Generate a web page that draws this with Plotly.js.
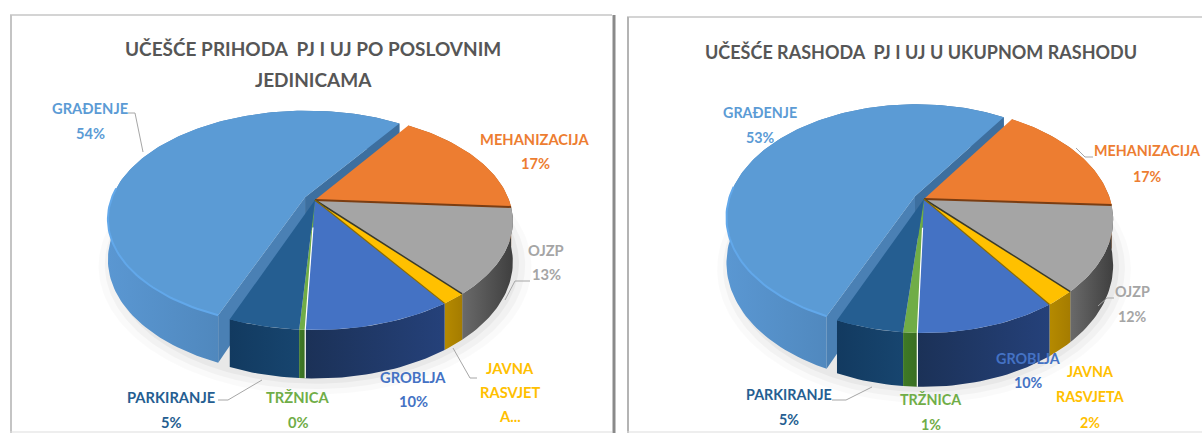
<!DOCTYPE html>
<html><head><meta charset="utf-8">
<script src="https://cdn.plot.ly/plotly-3.0.1.min.js"></script>
<style>html,body{margin:0;padding:0;background:#fff}#c{width:1202px;height:433px}</style>
</head><body><div id="c"></div>
<script>
// Data (clockwise from the orange slice)
const categories = ["MEHANIZACIJA","OJZP","JAVNA RASVJETA","GROBLJA","TRŽNICA","PARKIRANJE","GRAĐENJE"];
const incomeShare  = [16.6,12.8,1.7,10.1,0.4,4.8,53.6];
const expenseShare = [16.7,12.2,2.2,10.2,1.0,4.9,52.8];
const titleIncome  = ["UČEŠĆE PRIHODA  PJ I UJ PO POSLOVNIM","JEDINICAMA"];
const titleExpense = ["UČEŠĆE RASHODA  PJ I UJ U UKUPNOM RASHODU"];

// Styles
const topColors  = ["#ed7d31","#a5a5a5","#ffc000","#4472c4","#70ad47","#255e91","#5b9bd5"];
const wallLeft   = ["#a85a20","#6a6a6a","#b58a00","#1b3157","#3f7a26","#123a60","#5a97d2"];
const wallRight  = ["#a85a20","#3f3f3f","#a57c00","#25417a","#3a6e22","#17456f","#3f6f9c"];
const labelColors= ["#ed7d31","#a5a5a5","#ffc000","#4472c4","#70ad47","#255e91","#5b9bd5"];

const geomL = {xa:"x", ya:"y", cx:315, cy:200, a:194, b:104.5, k:0.196, h:39, off:0.058, start:-56, labelSize:14.7, titleSize:19};
const geomR = {xa:"x2",ya:"y2",cx:924, cy:199, a:186, b:109.6, k:0.182, h:44, off:0.055, start:-57, labelSize:14.3, titleSize:18};

// label anchor layout: [x, y of each line], per category
const posL = [[535,[139,163]],[546,[250,274]],[510,[368,392,416]],[413,[377,401]],[298,[397,422]],[171,[397,422]],[90,[108,133]]];
const posR = [[1147,[150,176]],[1132,[291,316]],[1090,[371,396,422]],[1028,[358,382]],[931,[399,424]],[789,[394,419]],[760,[112,137]]];
const wrapL = {2:["JAVNA","RASVJET","A..."]};
const wrapR = {2:["JAVNA","RASVJETA"]};
const leadersL = [[[128,113],[135,113],[143,152]],[[530,281],[515,281],[505,300]],[[453,348],[470,378],[477,378]],[[218,400],[228,400],[262,380]]];
const leadersR = [[[1093,157],[1085,157],[1076,148]],[[1114,298],[1107,298],[1098,306]],[[832,400],[846,400],[872,387]]];

const traces = [], annos = [];
function proj(g,X,Y,low,ox,oy){
  const px=X+(ox||0), py=Y+(oy||0), w=1-g.k*py;
  return [g.cx+g.a*px/w, g.cy+g.b*py/w+(low?g.h/w:0)];
}
function poly(g,pts,color,extra){
  traces.push(Object.assign({type:"scatter",mode:"lines",xaxis:g.xa,yaxis:g.ya,
    x:pts.map(p=>p[0]),y:pts.map(p=>p[1]),fill:"toself",fillcolor:color,
    line:{width:0,color:color},hoverinfo:"skip",showlegend:false},extra||{}));
}
function line(g,pts,color,width){
  traces.push({type:"scatter",mode:"lines",xaxis:g.xa,yaxis:g.ya,x:pts.map(p=>p[0]),y:pts.map(p=>p[1]),
    line:{width:width,color:color},hoverinfo:"skip",showlegend:false});
}
function arc(t0,t1){const n=Math.max(2,Math.ceil(Math.abs(t1-t0)/1.5));const r=[];for(let i=0;i<=n;i++)r.push((t0+(t1-t0)*i/n)*Math.PI/180);return r;}

function pie(g,values,pos,wrap,leaders,title,titleY,titleX){
  const tot=values.reduce((s,v)=>s+v,0);
  const sl=[];let t=g.start;
  values.forEach((v,i)=>{const t1=t+v/tot*360;sl.push({i,t0:t,t1,mid:(t+t1)/2});t=t1;});
  const ex=sl[sl.length-1];
  const ox=g.off*Math.cos(ex.mid*Math.PI/180), oy=g.off*Math.sin(ex.mid*Math.PI/180);

  // soft ground shadow
  [[1.09,.02],[1.06,.03],[1.03,.04]].forEach(([s,o])=>{
    const pts=arc(0,360).map(a=>{const p=proj(g,s*Math.cos(a),s*Math.sin(a),true);return p;});
    poly(g,pts,"rgba(0,0,0,"+o+")");
  });

  // exploded slice: wall and cut faces
  const wall=(s,dx,dy)=>{
    const A=arc(s.t0,s.t1);
    const up=A.map(a=>proj(g,Math.cos(a),Math.sin(a),false,dx,dy));
    const lo=A.map(a=>proj(g,Math.cos(a),Math.sin(a),true,dx,dy)).reverse();
    poly(g,up.concat(lo),topColors[s.i],{fillgradient:{type:"horizontal",
      colorscale:[[0,wallLeft[s.i]],[1,wallRight[s.i]]]}});
  };
  const face=(tt,dx,dy,col)=>{
    const a=tt*Math.PI/180,c=Math.cos(a),s=Math.sin(a);
    poly(g,[proj(g,0,0,false,dx,dy),proj(g,c,s,false,dx,dy),proj(g,c,s,true,dx,dy),proj(g,0,0,true,dx,dy)],col);
  };
  wall(ex,ox,oy);
  face(ex.t1,ox,oy,"#3d6f9f");
  face(ex.t0,ox,oy,"#4a80b4");

  // remaining walls, back to front
  const rest=sl.slice(0,-1);
  rest.slice().sort((p,q)=>Math.sin(p.mid*Math.PI/180)-Math.sin(q.mid*Math.PI/180)).forEach(s=>wall(s,0,0));

  // top faces
  rest.forEach(s=>{
    const pts=[proj(g,0,0)].concat(arc(s.t0,s.t1).map(a=>proj(g,Math.cos(a),Math.sin(a))));
    poly(g,pts,topColors[s.i]);
  });
  // thin dark seams between slices
  const ray=(tt)=>{const a=tt*Math.PI/180;return [proj(g,0,0),proj(g,Math.cos(a),Math.sin(a))];};
  line(g,ray(sl[0].t1),"#7a3d12",2);
  line(g,ray(sl[1].t1),"#3a3a2a",1.5);
  line(g,ray(sl[2].t1),"#8a6a00",1.2);
  const seam=sl[4].t0*Math.PI/180;
  line(g,[proj(g,0.25*Math.cos(seam),0.25*Math.sin(seam)),proj(g,Math.cos(seam),Math.sin(seam)),proj(g,Math.cos(seam),Math.sin(seam),true)],"#ffffff",1.2);

  // exploded slice top
  const ptsE=[proj(g,0,0,false,ox,oy)].concat(arc(ex.t0,ex.t1).map(a=>proj(g,Math.cos(a),Math.sin(a),false,ox,oy)));
  poly(g,ptsE,topColors[ex.i]);
  line(g,arc(Math.max(ex.t0,90),185).map(a=>proj(g,Math.cos(a),Math.sin(a),false,ox,oy)),"#62a8ea",2);

  // leaders
  leaders.forEach(l=>line(g,l,"#a6a6a6",1));

  // labels
  values.forEach((v,i)=>{
    const txt=(wrap[i]||[categories[i]]);
    const pct=Math.round(v/tot*100)+"%";
    const lines=(wrap[i]&&wrap[i].length===3)?txt:txt.concat([pct]);
    lines.forEach((s,j)=>annos.push({xref:g.xa,yref:g.ya,x:pos[i][0],y:pos[i][1][j],text:"<b>"+s+"</b>",showarrow:false,
      xanchor:"center",yanchor:"middle",font:{family:"Lato, sans-serif",size:g.labelSize,color:labelColors[i]}}));
  });
  // title
  title.forEach((s,j)=>annos.push({xref:g.xa,yref:g.ya,x:titleX,y:titleY[j],text:"<b>"+s+"</b>",showarrow:false,
    xanchor:"center",yanchor:"middle",font:{family:"Lato, sans-serif",size:g.titleSize,color:"#565656"}}));
}

pie(geomL,incomeShare,posL,wrapL,leadersL,titleIncome,[48,79],313);
pie(geomR,expenseShare,posR,wrapR,leadersR,titleExpense,[52],921);

const layout={width:1202,height:433,margin:{l:0,r:0,t:0,b:0},paper_bgcolor:"#fff",plot_bgcolor:"rgba(0,0,0,0)",
  showlegend:false,annotations:annos,
  xaxis:{domain:[0,618/1202],range:[0,618],visible:false,fixedrange:true},
  yaxis:{domain:[0,1],range:[433,0],visible:false,fixedrange:true},
  xaxis2:{domain:[618/1202,1],range:[618,1202],visible:false,fixedrange:true},
  yaxis2:{domain:[0,1],range:[433,0],visible:false,fixedrange:true,anchor:"x2"},
  shapes:[
    {type:"line",xref:"x",yref:"y",x0:10,x1:612,y0:15,y1:15,line:{color:"#d4d4d4",width:2},layer:"below"},
    {type:"line",xref:"x",yref:"y",x0:11,x1:11,y0:15,y1:433,line:{color:"#c4c4c4",width:2},layer:"below"},
    {type:"line",xref:"x",yref:"y",x0:614,x1:614,y0:15,y1:433,line:{color:"#8a8a8a",width:3},layer:"below"},
    {type:"line",xref:"x2",yref:"y2",x0:627,x1:1202,y0:17,y1:17,line:{color:"#d4d4d4",width:2},layer:"below"},
    {type:"line",xref:"x2",yref:"y2",x0:628,x1:628,y0:17,y1:433,line:{color:"#b4b4b4",width:2},layer:"below"},
    {type:"line",xref:"x",yref:"y",x0:10,x1:612,y0:432,y1:432,line:{color:"#dddddd",width:1},layer:"below"},
    {type:"line",xref:"x2",yref:"y2",x0:627,x1:1202,y0:432,y1:432,line:{color:"#dddddd",width:1},layer:"below"}
  ]};
Plotly.newPlot("c",traces,layout,{displayModeBar:false,staticPlot:true});
</script></body></html>
